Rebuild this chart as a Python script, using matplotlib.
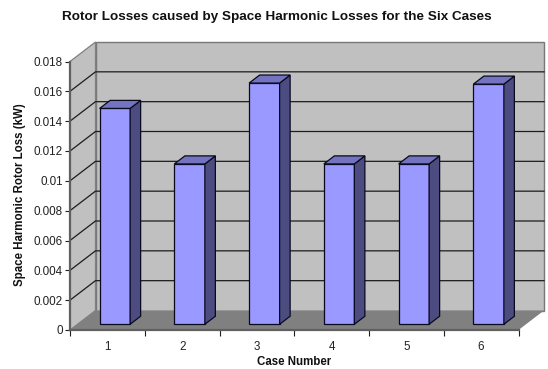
import matplotlib
matplotlib.use('Agg')
import matplotlib.pyplot as plt
from matplotlib.patches import Polygon

plt.rcParams['font.family'] = ['Liberation Sans', 'DejaVu Sans']

# Values
cases = ['1', '2', '3', '4', '5', '6']
losses = [0.01447, 0.01075, 0.01617, 0.01075, 0.01075, 0.01610]
y_ticks = [0, 0.002, 0.004, 0.006, 0.008, 0.01, 0.012, 0.014, 0.016, 0.018]
y_labels = ['0', '0.002', '0.004', '0.006', '0.008', '0.01', '0.012', '0.014', '0.016', '0.018']

W, H = 548, 369
X0, X1 = 70, 518.5   # front plane in pixels
Y0, Y1 = 330, 61.5

fig = plt.figure(figsize=(W / 100, H / 100), dpi=100)
ax = fig.add_axes([X0 / W, 1 - Y0 / H, (X1 - X0) / W, (Y0 - Y1) / H])
ymax = y_ticks[-1]
ax.set_xlim(0, len(cases))
ax.set_ylim(0, ymax)

# depth of the fake 3D box, in data units
dx = 25.5 / (X1 - X0) * len(cases)
dy = 19.5 / (Y0 - Y1) * ymax
bar_w = 0.408
near, far = 0.294, 0.706


def add_poly(points, color, edge='none', lw=0.0, z=1):
    ax.add_patch(Polygon(points, closed=True, facecolor=color, edgecolor=edge,
                         linewidth=lw, zorder=z, clip_on=False))


# walls and floor
add_poly([(dx, dy), (len(cases) + dx, dy), (len(cases) + dx, ymax + dy), (dx, ymax + dy)],
         '#c0c0c0', '#787878', 1.0)
add_poly([(0, 0), (dx, dy), (dx, ymax + dy), (0, ymax)], '#c0c0c0', '#808080', 0.9)
add_poly([(0, 0), (len(cases), 0), (len(cases) + dx, dy), (dx, dy)], '#808080', z=2)

# gridlines along side wall and back wall
for t in y_ticks[1:-1]:
    ax.plot([0, dx, len(cases) + dx], [t, t + dy, t + dy], color='#1c1c1c', lw=0.9,
            zorder=1.5, clip_on=False)

# bars, drawn as three faces
for i, v in enumerate(losses):
    left = i + 0.5 - bar_w / 2
    right = left + bar_w
    xn, yn = near * dx, near * dy
    xf, yf = far * dx, far * dy
    add_poly([(left + xn, yn), (right + xn, yn), (right + xn, v + yn), (left + xn, v + yn)],
             '#9999ff', '#0a0a1e', 0.9, 3)
    add_poly([(right + xn, yn), (right + xf, yf), (right + xf, v + yf), (right + xn, v + yn)],
             '#4c4c80', '#0a0a1e', 0.9, 3)
    add_poly([(left + xn, v + yn), (right + xn, v + yn), (right + xf, v + yf), (left + xf, v + yf)],
             '#7373bf', '#0a0a1e', 0.9, 3)

for s in ['top', 'right']:
    ax.spines[s].set_visible(False)
for s in ['left', 'bottom']:
    ax.spines[s].set_color('#606060')
    ax.spines[s].set_linewidth(1.6)
    ax.spines[s].set_zorder(4)

ax.set_yticks(y_ticks)
ax.set_yticklabels(y_labels)
ax.set_xticks(range(len(cases) + 1))
ax.set_xticklabels([])
ax.set_xticks([i + 0.5 for i in range(len(cases))], minor=True)
ax.set_xticklabels(cases, minor=True)
ax.tick_params(axis='y', length=3.5, width=0.8, color='#202020', labelsize=8.4, pad=1.5,
               labelcolor='#222222')
ax.tick_params(axis='x', which='major', length=4, width=0.8, color='#202020')
ax.tick_params(axis='x', which='minor', length=0, labelsize=8.4, pad=8, labelcolor='#222222')

fig.text(277 / W, 1 - 17 / H, 'Rotor Losses caused by Space Harmonic Losses for the Six Cases',
         fontsize=9.7, fontweight='bold', ha='center', va='center', color='#111111')
fig.text(294.5 / W, 1 - 362 / H, 'Case Number', fontsize=8.3, fontweight='bold',
         ha='center', va='center', color='#111111')
fig.text(20 / W, 1 - 195 / H, 'Space Harmonic Rotor Loss (kW)', fontsize=8.3, fontweight='bold',
         rotation=90, ha='center', va='center', color='#111111')

fig.savefig('out.png', dpi=100)
